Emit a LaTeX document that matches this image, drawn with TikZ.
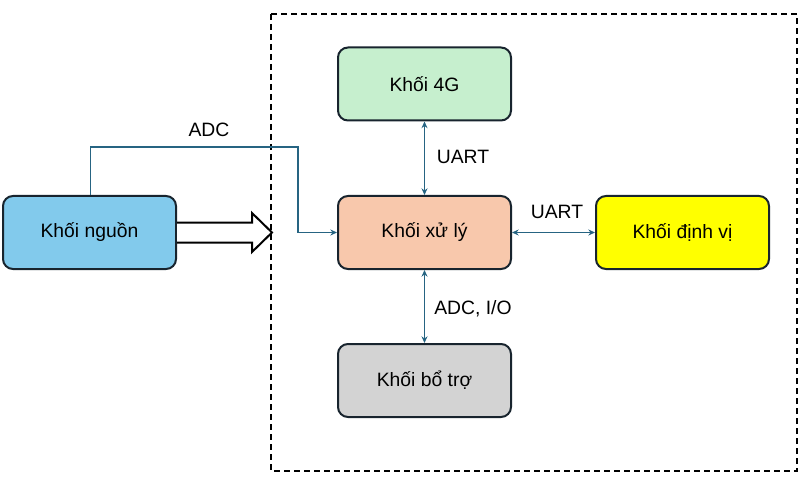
\documentclass[tikz,border=0pt]{standalone}
\usepackage{fontspec}
\setmainfont{Liberation Sans}
\usetikzlibrary{arrows.meta}
\definecolor{linkcol}{RGB}{38,100,130}
\definecolor{edgecol}{RGB}{24,36,46}
\definecolor{nguoncol}{RGB}{130,202,236}
\definecolor{gcol}{RGB}{198,239,206}
\definecolor{xulycol}{RGB}{248,200,172}
\definecolor{dinhvicol}{RGB}{255,255,0}
\definecolor{botrocol}{RGB}{211,211,211}
\tikzset{every picture/.style={line width=0.75pt}}
\tikzset{
  block/.style={draw=edgecol, line width=1.5pt, rounded corners=7.5pt,
    minimum width=129.75pt, minimum height=54.75pt, inner sep=0.75pt,
    font=\fontsize{14.5}{17}\selectfont},
  lbl/.style={inner sep=0.75pt, font=\fontsize{14.5}{17}\selectfont},
  link/.style={draw=linkcol, line width=1.3pt, {Stealth[length=5pt,width=4.5pt]}-{Stealth[length=5pt,width=4.5pt]}},
  feed/.style={draw=linkcol, line width=1.3pt, -{Stealth[length=5pt,width=4.5pt]}}
}

\begin{document}
\begin{tikzpicture}[x=0.75pt,y=0.75pt,yscale=-1,xscale=1]
	\useasboundingbox (0,0) rectangle (808,485);

	%Shape: Rectangle [id:frame]
	\draw [line width=1.5pt, dash pattern={on 4.5pt off 3pt}] (271,14) rectangle (797,471);

	% Blocks
	\node [block, fill=nguoncol] (nguon) at (89.5,232.5) {Khối nguồn};
	\node [block, fill=gcol] (g4) at (424.5,84) {Khối 4G};
	\node [block, fill=xulycol] (xuly) at (424.5,232.5) {Khối xử lý};
	\node [block, fill=dinhvicol] (dinhvi) at (682.5,232.5) {Khối định vị};
	\node [block, fill=botrocol] (botro) at (424.5,380.5) {Khối bổ trợ};

	%Shape: Right Arrow [id:power]
	\draw [line width=1.5pt, fill=white, line join=miter] (nguon.east |- 0,222.5) -- (252,222.5) -- (252,213) -- (272,232.5) -- (252,252) -- (252,242.5) -- (nguon.east |- 0,242.5) ;

	% Connectors
	\draw [feed] ([xshift=0.75pt]nguon.north) -- ++(0,-48) -| (298,232.5) -- (xuly.west) ;
	\draw [link] (g4.south) -- (xuly.north) ;
	\draw [link] (xuly.east) -- (dinhvi.west) ;
	\draw [link] (xuly.south) -- (botro.north) ;

	% Text Node
	\node [lbl] (adc) at (209,130) {ADC};
	% Text Node
	\node [lbl] (uart1) at (463,157) {UART};
	% Text Node
	\node [lbl] (uart2) at (557,212) {UART};
	% Text Node
	\node [lbl] (adcio) at (473,309) {ADC, I/O};
\end{tikzpicture}
\end{document}
